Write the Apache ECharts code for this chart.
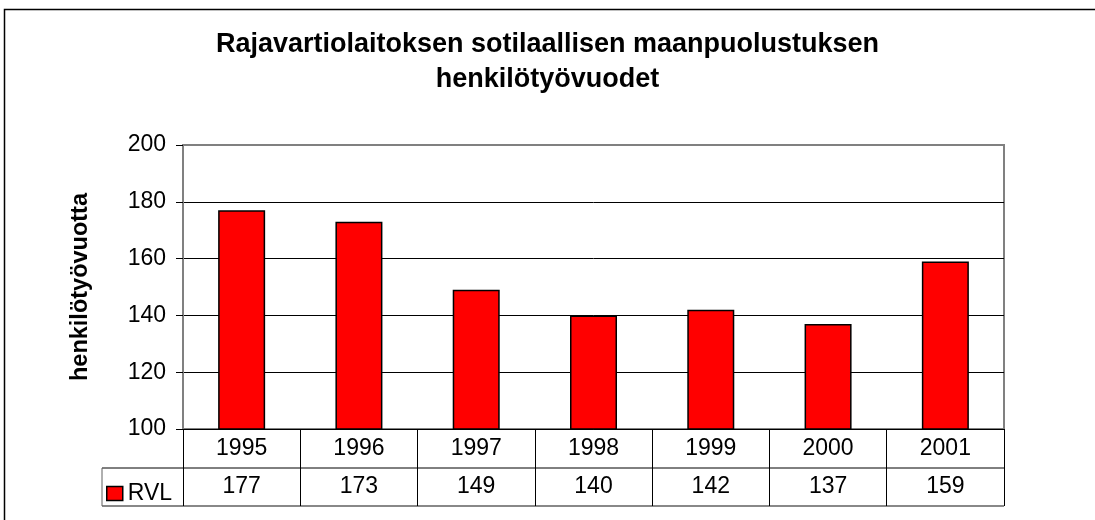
<!DOCTYPE html>
<html>
<head>
<meta charset="utf-8">
<script src="https://cdn.jsdelivr.net/npm/echarts@6/dist/echarts.min.js"></script>
<style>
html,body{margin:0;padding:0;background:#fff;}
#chart{width:1095px;height:520px;}
</style>
</head>
<body>
<div id="chart"></div>
<script>
const titleText = 'Rajavartiolaitoksen sotilaallisen maanpuolustuksen\nhenkilötyövuodet';
const yAxisName = 'henkilötyövuotta';
const seriesName = 'RVL';
const years = ['1995', '1996', '1997', '1998', '1999', '2000', '2001'];
const rvl = [177, 173, 149, 140, 142, 137, 159];
const yTicks = { min: 100, max: 200, interval: 20 };

const FONT = "'Liberation Sans', Arial, sans-serif";
const W = 1095;
const plotL = 183, plotR = 1004, plotT = 145, plotB = 429;
const row1B = 468, row2B = 506, cellL = 102;

const chart = echarts.init(document.getElementById('chart'), null, { renderer: 'canvas' });
chart.setOption({
  animation: false,
  backgroundColor: '#fff',
  textStyle: { fontFamily: FONT },
  title: {
    text: titleText,
    left: 'center',
    top: 22,
    textStyle: { fontFamily: FONT, fontSize: 27, fontWeight: 'bold', color: '#000', lineHeight: 35 }
  },
  legend: {
    data: [seriesName],
    left: 101,
    top: 477,
    icon: 'rect',
    itemWidth: 16,
    itemHeight: 14,
    itemGap: 5,
    itemStyle: { color: '#FF0000', borderColor: '#000', borderWidth: 1.5 },
    textStyle: { fontFamily: FONT, fontSize: 23, color: '#000' }
  },
  grid: [
    { left: plotL, right: W - plotR, top: plotT, height: plotB - plotT, show: true,
      borderColor: '#808080', borderWidth: 2, backgroundColor: 'transparent' },
    { left: plotL, right: W - plotR, top: row1B, height: row2B - row1B, show: false }
  ],
  xAxis: [
    {
      type: 'category', gridIndex: 0, data: years,
      axisLine: { show: true, lineStyle: { color: '#000', width: 1 } },
      axisTick: { show: true, length: row2B - plotB, lineStyle: { color: '#000', width: 1 } },
      axisLabel: { fontFamily: FONT, fontSize: 23, color: '#000', margin: 8 },
      splitLine: { show: false }
    },
    {
      type: 'category', gridIndex: 1, position: 'top', data: rvl.map(String),
      axisLine: { show: false }, axisTick: { show: false },
      axisLabel: { inside: true, fontFamily: FONT, fontSize: 23, color: '#000', margin: 7 },
      splitLine: { show: false }
    }
  ],
  yAxis: [
    {
      type: 'value', gridIndex: 0, min: yTicks.min, max: yTicks.max, interval: yTicks.interval,
      name: yAxisName, nameLocation: 'middle', nameGap: 90, nameRotate: 90,
      nameTextStyle: { fontFamily: FONT, fontSize: 23.5, fontWeight: 'bold', color: '#000' },
      axisLine: { show: true, lineStyle: { color: '#808080', width: 2 } },
      axisTick: { show: true, length: 7, lineStyle: { color: '#000', width: 1 } },
      axisLabel: { fontFamily: FONT, fontSize: 23, color: '#000', margin: 17 },
      splitLine: { show: true, showMaxLine: false, showMinLine: false, lineStyle: { color: '#000', width: 1 } }
    },
    { type: 'value', gridIndex: 1, show: false }
  ],
  series: [{
    name: seriesName,
    type: 'bar',
    xAxisIndex: 0, yAxisIndex: 0,
    data: rvl,
    barWidth: 47,
    itemStyle: { color: '#FF0000', borderColor: '#000', borderWidth: 1.5 }
  }],
  graphic: [
    { type: 'line', shape: { x1: cellL, y1: row1B, x2: plotR, y2: row1B }, style: { stroke: '#000', lineWidth: 1 } },
    { type: 'line', shape: { x1: cellL, y1: row2B, x2: plotR, y2: row2B }, style: { stroke: '#606060', lineWidth: 1.5 } },
    { type: 'line', shape: { x1: cellL, y1: row1B, x2: cellL, y2: row2B }, style: { stroke: '#606060', lineWidth: 1 } },
    { type: 'rect', shape: { x: 4.5, y: 9.5, width: 1200, height: 600 }, style: { fill: 'none', stroke: '#000', lineWidth: 1.5 } }
  ]
});
</script>
</body>
</html>
